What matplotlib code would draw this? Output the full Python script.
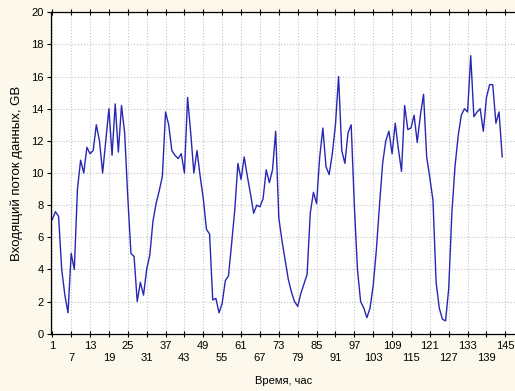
import numpy as np
import matplotlib.pyplot as plt

plt.rcParams['font.family'] = ['Liberation Sans', 'DejaVu Sans']

hours = np.arange(1, 145)
traffic = [
    7.1, 7.6, 7.3, 4.0, 2.4, 1.3, 5.0, 4.0, 9.0, 10.8,
    10.0, 11.6, 11.2, 11.4, 13.0, 12.0, 10.0, 12.0, 14.0, 11.1,
    14.3, 11.3, 14.2, 12.5, 8.5, 5.0, 4.8, 2.0, 3.2, 2.4,
    4.0, 4.9, 7.0, 8.1, 8.9, 9.8, 13.8, 13.0, 11.4, 11.1,
    10.9, 11.2, 10.0, 14.7, 12.5, 10.0, 11.4, 9.8, 8.4, 6.5,
    6.2, 2.1, 2.2, 1.3, 1.9, 3.3, 3.6, 5.6, 7.7, 10.6,
    9.6, 11.0, 9.8, 8.7, 7.5, 8.0, 7.9, 8.4, 10.2, 9.4,
    10.2, 12.6, 7.2, 5.8, 4.6, 3.4, 2.6, 2.0, 1.7, 2.5,
    3.1, 3.7, 7.5, 8.8, 8.1, 11.0, 12.8, 10.4, 9.9, 11.2,
    13.0, 16.0, 11.4, 10.6, 12.5, 13.0, 8.0, 4.0, 2.0, 1.6,
    1.0, 1.6, 3.0, 5.2, 8.0, 10.6, 12.0, 12.6, 11.2, 13.1,
    11.5, 10.1, 14.2, 12.7, 12.8, 13.6, 11.9, 13.6, 14.9, 11.0,
    9.7, 8.3, 3.2, 1.6, 0.9, 0.8, 2.8, 7.5, 10.4, 12.3,
    13.6, 14.0, 13.8, 17.3, 13.5, 13.8, 14.0, 12.6, 14.7, 15.5,
    15.5, 13.1, 13.8, 11.0,
]
xticks = np.arange(1, 146, 6)
yticks = np.arange(0, 21, 2)
xlabels = [str(t) if i % 2 == 0 else '\n' + str(t) for i, t in enumerate(xticks)]

fig = plt.figure(figsize=(5.15, 3.91), dpi=100, facecolor='#fcf8ec')
ax = fig.add_axes([0.0984, 0.1465, 0.9030, 0.822])
ax.set_facecolor('white')

ax.plot(hours, traffic, color='#2727b4', linewidth=1.0)

ax.set_xlim(0.49, 148.3)
ax.set_ylim(0, 20)
ax.set_xticks(xticks)
ax.set_xticklabels(xlabels, linespacing=1.35)
ax.set_yticks(yticks)
ax.grid(True, color='#c4c4c4', linestyle=':', linewidth=0.8)

ax.tick_params(axis='x', direction='inout', length=4, width=0.8, pad=3,
               labelsize=8, top=True)
ax.tick_params(axis='y', direction='out', length=3, width=0.8, pad=2,
               labelsize=8)
ax.spines['right'].set_visible(False)
for s in ['left', 'top', 'bottom']:
    ax.spines[s].set_linewidth(0.9)

ax.set_xlabel('Время, час', fontsize=8, labelpad=9)
ax.set_ylabel('Входящий поток данных, GB', fontsize=9.5, labelpad=6)

fig.savefig('out.png', dpi=100, facecolor=fig.get_facecolor())
